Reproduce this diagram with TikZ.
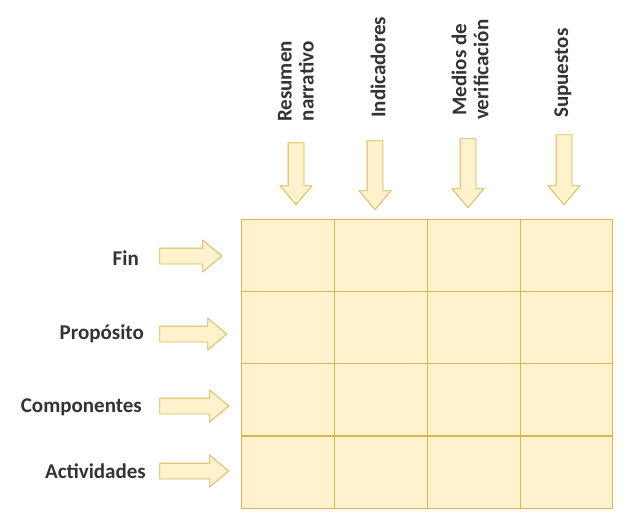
\documentclass[tikz,border=0pt]{standalone}
\usepackage{fontspec}
\setmainfont{Carlito}
\usetikzlibrary{shapes.arrows}
\definecolor{fillY}{HTML}{FFF2CC}
\definecolor{lineY}{HTML}{D6B656}
\definecolor{txt}{HTML}{333333}
\begin{document}
\begin{tikzpicture}[x=1pt,y=-1pt,
  arr/.style={single arrow,draw=lineY,fill=fillY,inner sep=7.5pt,minimum width=31pt,single arrow head extend=8pt,single arrow tip angle=80,line width=0.8pt},
  lab/.style={text=txt,font=\bfseries\fontsize{21}{22}\selectfont},
  cell/.style={draw=lineY,fill=fillY,line width=1pt}]
\useasboundingbox (0,0) rectangle (632,522);
\foreach \x [count=\i] in {241,334,427,520}{
  \foreach \y in {219,291,363,436}{
    \pgfmathsetmacro\xe{\x+(\i<4?93:92)}
    \draw[cell] (\x,\y) rectangle (\xe,\y+72);
  }}
% down arrows
\node[arr,rotate=-90,minimum height=62pt] (d1) at (296,169) {};
\node[arr,rotate=-90,minimum height=69pt] (d2) at (375,170.5) {};
\node[arr,rotate=-90,minimum height=69pt] (d3) at (468,168.5) {};
\node[arr,rotate=-90,minimum height=70pt] (d4) at (564,165) {};
% right arrows
\node[arr,minimum height=62pt] (r1) at (186,256) {};
\node[arr,minimum height=67pt] (r2) at (188.5,334) {};
\node[arr,minimum height=69pt] (r3) at (189.5,406) {};
\node[arr,minimum height=69pt] (r4) at (189.5,471) {};
% labels
\node[lab,rotate=90,anchor=west,align=center,inner sep=0pt] (t1) at (296,122) {Resumen\\narrativo};
\node[lab,rotate=90,anchor=west,inner sep=0pt] (t2) at (378,118) {Indicadores};
\node[lab,rotate=90,anchor=west,align=center,inner sep=0pt] (t3) at (470,120) {Medios de\\verificación};
\node[lab,rotate=90,anchor=west,inner sep=0pt] (t4) at (563,118) {Supuestos};
\node[lab,anchor=east,inner sep=0pt] (l1) at (139,258) {Fin};
\node[lab,anchor=east,inner sep=0pt] (l2) at (144,334) {Propósito};
\node[lab,anchor=east,inner sep=0pt] (l3) at (142,407) {Componentes};
\node[lab,anchor=east,inner sep=0pt] (l4) at (146,471) {Actividades};
\end{tikzpicture}
\end{document}
